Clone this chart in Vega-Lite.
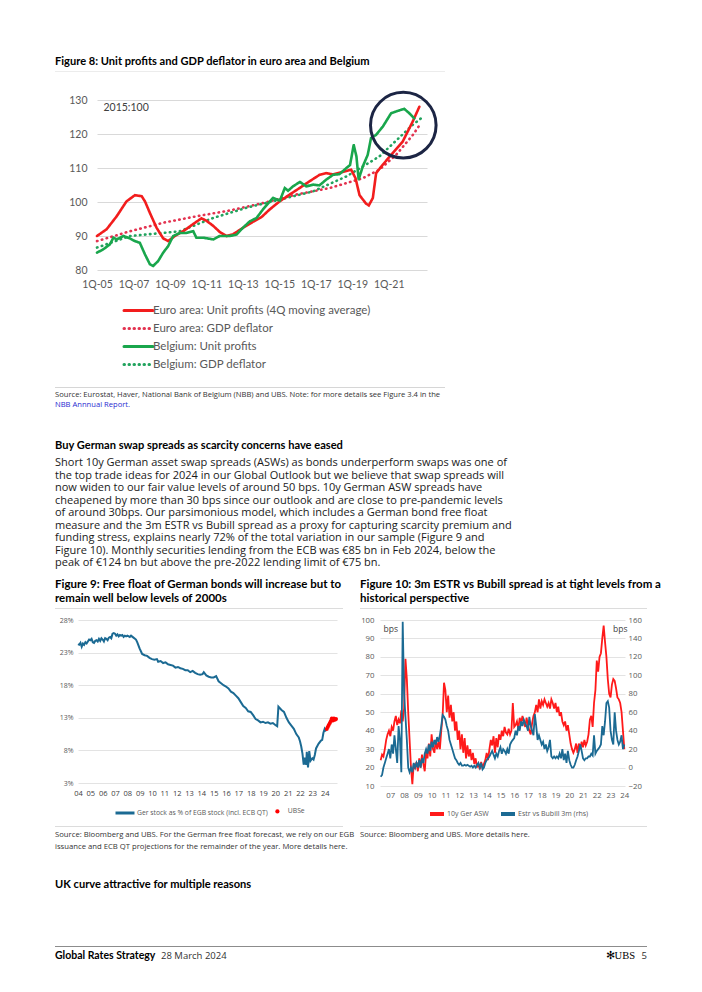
{
"$schema":"https://vega.github.io/schema/vega-lite/v6.json",
"background":"#ffffff",
"padding":{"left":55,"top":0,"right":0,"bottom":0},
"config":{"view":{"stroke":null}},
"bounds":"flush","spacing":0,"columns":8,"align":"each",
"resolve":{"scale":{"color":"independent","fill":"independent","strokeDash":"independent"},"legend":{"color":"independent","fill":"independent","strokeDash":"independent"}},
"concat":[
{"width":23,"height":71,"data":{"values":[{}]},"mark":{"type":"rect","opacity":0},"encoding":{}},
{"width":19,"height":1,"data":{"values":[{}]},"mark":{"type":"rect","opacity":0},"encoding":{}},
{"width":64,"height":1,"data":{"values":[{}]},"mark":{"type":"rect","opacity":0},"encoding":{}},
{"width":199,"height":1,"data":{"values":[{}]},"mark":{"type":"rect","opacity":0},"encoding":{}},
{"width":20,"height":1,"data":{"values":[{}]},"mark":{"type":"rect","opacity":0},"encoding":{}},
{"width":166,"height":1,"data":{"values":[{}]},"mark":{"type":"rect","opacity":0},"encoding":{}},
{"width":89,"height":1,"data":{"values":[{}]},"mark":{"type":"rect","opacity":0},"encoding":{}},
{"width":12,"height":1,"data":{"values":[{}]},"mark":{"type":"rect","opacity":0},"encoding":{}},

{"width":23,"height":1,"data":{"values":[{}]},"mark":{"type":"rect","fill":"#ececec"},"encoding":{},
 "title":{"text":"Figure 8: Unit profits and GDP deflator in euro area and Belgium","orient":"top","anchor":"start","frame":"group","offset":4,"font":"Lato","fontSize":11.1,"fontWeight":"bold","color":"#000000"}},
{"width":19,"height":1,"data":{"values":[{}]},"mark":{"type":"rect","fill":"#ececec"},"encoding":{}},
{"width":64,"height":1,"data":{"values":[{}]},"mark":{"type":"rect","fill":"#ececec"},"encoding":{}},
{"width":199,"height":1,"data":{"values":[{}]},"mark":{"type":"rect","fill":"#ececec"},"encoding":{}},
{"width":20,"height":1,"data":{"values":[{}]},"mark":{"type":"rect","fill":"#ececec"},"encoding":{}},
{"width":65,"height":1,"data":{"values":[{}]},"mark":{"type":"rect","fill":"#ececec"},"encoding":{}},
{"width":1,"height":1,"data":{"values":[{}]},"mark":{"type":"rect","opacity":0},"encoding":{}},
{"width":1,"height":1,"data":{"values":[{}]},"mark":{"type":"rect","opacity":0},"encoding":{}},

{"width":1,"height":28,"data":{"values":[{}]},"mark":{"type":"rect","opacity":0},"encoding":{}},
{"width":1,"height":1,"data":{"values":[{}]},"mark":{"type":"rect","opacity":0},"encoding":{}},
{"width":1,"height":1,"data":{"values":[{}]},"mark":{"type":"rect","opacity":0},"encoding":{}},
{"width":1,"height":1,"data":{"values":[{}]},"mark":{"type":"rect","opacity":0},"encoding":{}},
{"width":1,"height":1,"data":{"values":[{}]},"mark":{"type":"rect","opacity":0},"encoding":{}},
{"width":1,"height":1,"data":{"values":[{}]},"mark":{"type":"rect","opacity":0},"encoding":{}},
{"width":1,"height":1,"data":{"values":[{}]},"mark":{"type":"rect","opacity":0},"encoding":{}},
{"width":1,"height":1,"data":{"values":[{}]},"mark":{"type":"rect","opacity":0},"encoding":{}},

{"width":1,"height":170,"data":{"values":[{}]},"mark":{"type":"rect","opacity":0},"encoding":{}},
{"width":1,"height":1,"data":{"values":[{}]},"mark":{"type":"rect","opacity":0},"encoding":{}},
{"width":64,"height":170,
  "layer":[
   {"data":{"values":[
{"s":"EUD","t":2005.0,"v":88.5},{"s":"EUD","t":2006.81,"v":91.4},{"s":"EUD","t":2008.63,"v":93.9},{"s":"EUD","t":2010.46,"v":95.8},{"s":"EUD","t":2012.28,"v":97.5},{"s":"EUD","t":2014.11,"v":99.7},{"s":"EUD","t":2015.93,"v":102.2},{"s":"EUD","t":2017.76,"v":104.1},{"s":"EUD","t":2019.58,"v":107},{"s":"EUD","t":2020.49,"v":109.5},{"s":"EUD","t":2021.41,"v":113.9},{"s":"EUD","t":2022.32,"v":119.7},{"s":"EUD","t":2022.77,"v":123.2},
{"s":"BED","t":2005.0,"v":86.6},{"s":"BED","t":2006.81,"v":90},{"s":"BED","t":2008.63,"v":90.9},{"s":"BED","t":2009.54,"v":91.4},{"s":"BED","t":2011.37,"v":95.3},{"s":"BED","t":2013.19,"v":98.3},{"s":"BED","t":2015.02,"v":100.7},{"s":"BED","t":2016.84,"v":103.1},{"s":"BED","t":2018.67,"v":107.5},{"s":"BED","t":2020.49,"v":113.4},{"s":"BED","t":2022.32,"v":122.7},{"s":"BED","t":2022.77,"v":124.6},
{"s":"EUP","t":2005.0,"v":90},{"s":"EUP","t":2005.53,"v":92},{"s":"EUP","t":2006.08,"v":95.8},{"s":"EUP","t":2006.62,"v":100.2},{"s":"EUP","t":2007.08,"v":102},{"s":"EUP","t":2007.45,"v":101.7},{"s":"EUP","t":2007.63,"v":100.2},{"s":"EUP","t":2007.9,"v":96.8},{"s":"EUP","t":2008.27,"v":92.4},{"s":"EUP","t":2008.63,"v":89.3},{"s":"EUP","t":2008.9,"v":88.5},{"s":"EUP","t":2009.27,"v":90},{"s":"EUP","t":2009.73,"v":91.4},{"s":"EUP","t":2010.27,"v":93.5},{"s":"EUP","t":2010.73,"v":95.2},{"s":"EUP","t":2011.0,"v":94.5},{"s":"EUP","t":2011.37,"v":93},{"s":"EUP","t":2011.73,"v":91.2},{"s":"EUP","t":2012.1,"v":90},{"s":"EUP","t":2012.46,"v":90.5},{"s":"EUP","t":2013.0,"v":92.4},{"s":"EUP","t":2013.56,"v":94.2},{"s":"EUP","t":2014.01,"v":95.5},{"s":"EUP","t":2014.47,"v":97.8},{"s":"EUP","t":2015.02,"v":100.2},{"s":"EUP","t":2015.57,"v":102.2},{"s":"EUP","t":2016.11,"v":104.1},{"s":"EUP","t":2016.66,"v":106.1},{"s":"EUP","t":2017.21,"v":108},{"s":"EUP","t":2017.57,"v":108.5},{"s":"EUP","t":2017.94,"v":108.1},{"s":"EUP","t":2018.3,"v":108.6},{"s":"EUP","t":2018.67,"v":109.1},{"s":"EUP","t":2018.94,"v":109.5},{"s":"EUP","t":2019.18,"v":107},{"s":"EUP","t":2019.4,"v":102},{"s":"EUP","t":2019.76,"v":99.5},{"s":"EUP","t":2019.91,"v":99},{"s":"EUP","t":2020.13,"v":101.2},{"s":"EUP","t":2020.31,"v":108.5},{"s":"EUP","t":2020.68,"v":111},{"s":"EUP","t":2021.22,"v":114.4},{"s":"EUP","t":2021.77,"v":117.8},{"s":"EUP","t":2022.32,"v":123.7},{"s":"EUP","t":2022.68,"v":128},
{"s":"BEP","t":2005.0,"v":85.1},{"s":"BEP","t":2005.35,"v":86.1},{"s":"BEP","t":2005.7,"v":87.5},{"s":"BEP","t":2005.9,"v":89.5},{"s":"BEP","t":2006.08,"v":89},{"s":"BEP","t":2006.45,"v":90},{"s":"BEP","t":2006.8,"v":89.3},{"s":"BEP","t":2007.08,"v":88.5},{"s":"BEP","t":2007.35,"v":88},{"s":"BEP","t":2007.63,"v":84.6},{"s":"BEP","t":2007.9,"v":81.7},{"s":"BEP","t":2008.08,"v":81.2},{"s":"BEP","t":2008.35,"v":82.6},{"s":"BEP","t":2008.63,"v":85.1},{"s":"BEP","t":2008.9,"v":87},{"s":"BEP","t":2009.18,"v":90},{"s":"BEP","t":2009.55,"v":90.9},{"s":"BEP","t":2009.9,"v":90.9},{"s":"BEP","t":2010.28,"v":91.4},{"s":"BEP","t":2010.45,"v":89.5},{"s":"BEP","t":2010.83,"v":89.5},{"s":"BEP","t":2011.38,"v":89},{"s":"BEP","t":2011.73,"v":90},{"s":"BEP","t":2012.28,"v":90},{"s":"BEP","t":2012.65,"v":90.4},{"s":"BEP","t":2013.0,"v":92.4},{"s":"BEP","t":2013.38,"v":94.3},{"s":"BEP","t":2013.75,"v":95.3},{"s":"BEP","t":2014.1,"v":97.8},{"s":"BEP","t":2014.48,"v":100.2},{"s":"BEP","t":2014.65,"v":101.2},{"s":"BEP","t":2015.03,"v":100.4},{"s":"BEP","t":2015.3,"v":104.1},{"s":"BEP","t":2015.48,"v":103.3},{"s":"BEP","t":2015.75,"v":104.6},{"s":"BEP","t":2016.13,"v":105.9},{"s":"BEP","t":2016.48,"v":104.6},{"s":"BEP","t":2016.85,"v":105.1},{"s":"BEP","t":2017.2,"v":104.9},{"s":"BEP","t":2017.58,"v":106.6},{"s":"BEP","t":2017.95,"v":108},{"s":"BEP","t":2018.3,"v":108.2},{"s":"BEP","t":2018.68,"v":110},{"s":"BEP","t":2018.88,"v":110.9},{"s":"BEP","t":2019.08,"v":116.8},{"s":"BEP","t":2019.23,"v":113.4},{"s":"BEP","t":2019.35,"v":106.6},{"s":"BEP","t":2019.58,"v":110.5},{"s":"BEP","t":2019.85,"v":113.9},{"s":"BEP","t":2020.03,"v":118.8},{"s":"BEP","t":2020.3,"v":119.7},{"s":"BEP","t":2020.68,"v":122.2},{"s":"BEP","t":2021.13,"v":126.1},{"s":"BEP","t":2021.5,"v":126.8},{"s":"BEP","t":2021.85,"v":127.4},{"s":"BEP","t":2022.13,"v":126.1},{"s":"BEP","t":2022.4,"v":124.6}
   ]},
    "mark":{"type":"line","strokeWidth":2.6,"strokeCap":"round"},
    "encoding":{
     "x":{"field":"t","type":"quantitative","scale":{"domain":[2005,2023.1],"range":[0,330],"nice":false,"zero":false},
      "axis":{"values":[2005,2007,2009,2011,2013,2015,2017,2019,2021],"tickCount":50,"labelExpr":"'1Q-' + slice(toString(datum.value), 2)","grid":false,"ticks":false,"domain":false,"labelFlush":false,"labelOverlap":false,"labelFont":"Lato","labelFontSize":10.5,"labelColor":"#595959","labelPadding":9,"title":null}},
     "y":{"field":"v","type":"quantitative","scale":{"domain":[80,130],"nice":false,"zero":false},
      "axis":{"values":[80,90,100,110,120,130],"tickCount":50,"grid":true,"gridColor":"#d9d9d9","ticks":false,"domain":false,"labelOverlap":false,"labelFont":"Lato","labelFontSize":10.5,"labelColor":"#595959","labelPadding":10,"title":"2015:100","titleAngle":0,"titleX":6,"titleY":7,"titleAlign":"left","titleBaseline":"middle","titleFont":"Lato","titleFontSize":10.5,"titleFontWeight":"normal","titleColor":"#404040"}},
     "color":{"field":"s","type":"nominal","scale":{"domain":["EUP","EUD","BEP","BED"],"range":["#f21d1d","#e33350","#19a64c","#22a35e"]},
      "legend":{"title":null,"orient":"none","legendX":35,"legendY":204,"direction":"vertical","symbolType":"M-2.9,0H2.9","symbolSize":100,"symbolStrokeWidth":3,"labelFont":"Lato","labelFontSize":11.5,"labelColor":"#595959","rowPadding":5,"labelOffset":8,"labelLimit":400,
       "labelExpr":"datum.label == 'EUP' ? 'Euro area: Unit profits (4Q moving average)' : datum.label == 'EUD' ? 'Euro area: GDP deflator' : datum.label == 'BEP' ? 'Belgium: Unit profits' : 'Belgium: GDP deflator'",
       "encode":{"symbols":{"update":{"strokeCap":{"value":"round"},"fill":{"value":"transparent"},"strokeDash":{"signal":"datum.value == 'EUD' || datum.value == 'BED' ? [0.5, 4.5] : [1, 0]"}}}}}},
     "strokeDash":{"field":"s","type":"nominal","scale":{"domain":["EUP","EUD","BEP","BED"],"range":[[1,0],[0.5,4.5],[1,0],[0.5,4.5]]},"legend":null}
    }},
   {"data":{"values":[{"t":2021.8,"v":122.6}]},
    "mark":{"type":"point","shape":"circle","filled":false,"size":4300,"strokeWidth":3,"color":"#1c2544","opacity":1},
    "encoding":{"x":{"field":"t","type":"quantitative"},"y":{"field":"v","type":"quantitative"}}}
  ]},
{"width":1,"height":1,"data":{"values":[{}]},"mark":{"type":"rect","opacity":0},"encoding":{}},
{"width":1,"height":1,"data":{"values":[{}]},"mark":{"type":"rect","opacity":0},"encoding":{}},
{"width":1,"height":1,"data":{"values":[{}]},"mark":{"type":"rect","opacity":0},"encoding":{}},
{"width":1,"height":1,"data":{"values":[{}]},"mark":{"type":"rect","opacity":0},"encoding":{}},
{"width":1,"height":1,"data":{"values":[{}]},"mark":{"type":"rect","opacity":0},"encoding":{}},

{"width":1,"height":117,"data":{"values":[{}]},"mark":{"type":"rect","opacity":0},"encoding":{}},
{"width":1,"height":1,"data":{"values":[{}]},"mark":{"type":"rect","opacity":0},"encoding":{}},
{"width":1,"height":1,"data":{"values":[{}]},"mark":{"type":"rect","opacity":0},"encoding":{}},
{"width":1,"height":1,"data":{"values":[{}]},"mark":{"type":"rect","opacity":0},"encoding":{}},
{"width":1,"height":1,"data":{"values":[{}]},"mark":{"type":"rect","opacity":0},"encoding":{}},
{"width":1,"height":1,"data":{"values":[{}]},"mark":{"type":"rect","opacity":0},"encoding":{}},
{"width":1,"height":1,"data":{"values":[{}]},"mark":{"type":"rect","opacity":0},"encoding":{}},
{"width":1,"height":1,"data":{"values":[{}]},"mark":{"type":"rect","opacity":0},"encoding":{}},

{"width":23,"height":1,"data":{"values":[{}]},"mark":{"type":"rect","fill":"#d6d6d6"},"encoding":{},
 "title":{"text":"Source: Eurostat, Haver, National Bank of Belgium (NBB) and UBS. Note: for more details see Figure 3.4 in the","subtitle":"NBB Annnual Report.","orient":"bottom","anchor":"start","frame":"group","offset":3,"font":"Open Sans","fontSize":7.6,"fontWeight":"normal","color":"#333333","subtitleFont":"Open Sans","subtitleFontSize":7.6,"subtitleColor":"#2a2ad0","subtitlePadding":2}},
{"width":19,"height":1,"data":{"values":[{}]},"mark":{"type":"rect","fill":"#d6d6d6"},"encoding":{}},
{"width":64,"height":1,"data":{"values":[{}]},"mark":{"type":"rect","fill":"#d6d6d6"},"encoding":{}},
{"width":199,"height":1,"data":{"values":[{}]},"mark":{"type":"rect","fill":"#d6d6d6"},"encoding":{}},
{"width":20,"height":1,"data":{"values":[{}]},"mark":{"type":"rect","fill":"#d6d6d6"},"encoding":{}},
{"width":65,"height":1,"data":{"values":[{}]},"mark":{"type":"rect","fill":"#d6d6d6"},"encoding":{}},
{"width":1,"height":1,"data":{"values":[{}]},"mark":{"type":"rect","opacity":0},"encoding":{}},
{"width":1,"height":1,"data":{"values":[{}]},"mark":{"type":"rect","opacity":0},"encoding":{}},

{"width":1,"height":49,"data":{"values":[{}]},"mark":{"type":"rect","opacity":0},"encoding":{},
 "title":{"text":"Buy German swap spreads as scarcity concerns have eased","subtitle":["Short 10y German asset swap spreads (ASWs) as bonds underperform swaps was one of","the top trade ideas for 2024 in our Global Outlook but we believe that swap spreads will","now widen to our fair value levels of around 50 bps. 10y German ASW spreads have","cheapened by more than 30 bps since our outlook and are close to pre-pandemic levels","of around 30bps. Our parsimonious model, which includes a German bond free float","measure and the 3m ESTR vs Bubill spread as a proxy for capturing scarcity premium and","funding stress, explains nearly 72% of the total variation in our sample (Figure 9 and","Figure 10). Monthly securities lending from the ECB was €85 bn in Feb 2024, below the","peak of €124 bn but above the pre-2022 lending limit of €75 bn."],
 "orient":"bottom","anchor":"start","frame":"group","offset":3,"font":"Lato","fontSize":11.1,"fontWeight":"bold","color":"#000000","subtitleFont":"Open Sans","subtitleFontSize":11,"subtitleColor":"#1a1a1a","subtitleLineHeight":12.5,"subtitlePadding":6}},
{"width":1,"height":1,"data":{"values":[{}]},"mark":{"type":"rect","opacity":0},"encoding":{}},
{"width":1,"height":1,"data":{"values":[{}]},"mark":{"type":"rect","opacity":0},"encoding":{}},
{"width":1,"height":1,"data":{"values":[{}]},"mark":{"type":"rect","opacity":0},"encoding":{}},
{"width":1,"height":1,"data":{"values":[{}]},"mark":{"type":"rect","opacity":0},"encoding":{}},
{"width":1,"height":1,"data":{"values":[{}]},"mark":{"type":"rect","opacity":0},"encoding":{}},
{"width":1,"height":1,"data":{"values":[{}]},"mark":{"type":"rect","opacity":0},"encoding":{}},
{"width":1,"height":1,"data":{"values":[{}]},"mark":{"type":"rect","opacity":0},"encoding":{}},

{"width":1,"height":171,"data":{"values":[{}]},"mark":{"type":"rect","opacity":0},"encoding":{}},
{"width":1,"height":1,"data":{"values":[{}]},"mark":{"type":"rect","opacity":0},"encoding":{}},
{"width":1,"height":1,"data":{"values":[{}]},"mark":{"type":"rect","opacity":0},"encoding":{}},
{"width":1,"height":1,"data":{"values":[{}]},"mark":{"type":"rect","opacity":0},"encoding":{}},
{"width":1,"height":1,"data":{"values":[{}]},"mark":{"type":"rect","opacity":0},"encoding":{}},
{"width":1,"height":1,"data":{"values":[{}]},"mark":{"type":"rect","opacity":0},"encoding":{}},
{"width":1,"height":1,"data":{"values":[{}]},"mark":{"type":"rect","opacity":0},"encoding":{}},
{"width":1,"height":1,"data":{"values":[{}]},"mark":{"type":"rect","opacity":0},"encoding":{}},

{"width":23,"height":1,"data":{"values":[{}]},"mark":{"type":"rect","fill":"#dcdcdc"},"encoding":{},
  "title":{"text":["Figure 9: Free float of German bonds will increase but to","remain well below levels of 2000s"],"orient":"top","anchor":"start","frame":"group","offset":4,"lineHeight":14,"font":"Lato","fontSize":11.5,"fontWeight":"bold","color":"#000000"}},
{"width":19,"height":1,"data":{"values":[{}]},"mark":{"type":"rect","fill":"#dcdcdc"},"encoding":{}},
{"width":64,"height":1,"data":{"values":[{}]},"mark":{"type":"rect","fill":"#dcdcdc"},"encoding":{}},
{"width":182,"height":1,"data":{"values":[{}]},"mark":{"type":"rect","fill":"#dcdcdc"},"encoding":{}},
{"width":20,"height":1,"data":{"values":[{}]},"mark":{"type":"rect","fill":"#dcdcdc"},"encoding":{},
  "title":{"text":["Figure 10: 3m ESTR vs Bubill spread is at tight levels from a","historical perspective"],"orient":"top","anchor":"start","frame":"group","offset":4,"lineHeight":14,"font":"Lato","fontSize":11.5,"fontWeight":"bold","color":"#000000"}},
{"width":166,"height":1,"data":{"values":[{}]},"mark":{"type":"rect","fill":"#dcdcdc"},"encoding":{}},
{"width":89,"height":1,"data":{"values":[{}]},"mark":{"type":"rect","fill":"#dcdcdc"},"encoding":{}},
{"width":12,"height":1,"data":{"values":[{}]},"mark":{"type":"rect","fill":"#dcdcdc"},"encoding":{}},

{"width":1,"height":11,"data":{"values":[{}]},"mark":{"type":"rect","opacity":0},"encoding":{}},
{"width":1,"height":1,"data":{"values":[{}]},"mark":{"type":"rect","opacity":0},"encoding":{}},
{"width":1,"height":1,"data":{"values":[{}]},"mark":{"type":"rect","opacity":0},"encoding":{}},
{"width":1,"height":1,"data":{"values":[{}]},"mark":{"type":"rect","opacity":0},"encoding":{}},
{"width":1,"height":1,"data":{"values":[{}]},"mark":{"type":"rect","opacity":0},"encoding":{}},
{"width":1,"height":1,"data":{"values":[{}]},"mark":{"type":"rect","opacity":0},"encoding":{}},
{"width":1,"height":1,"data":{"values":[{}]},"mark":{"type":"rect","opacity":0},"encoding":{}},
{"width":1,"height":1,"data":{"values":[{}]},"mark":{"type":"rect","opacity":0},"encoding":{}},

{"width":1,"height":1,"data":{"values":[{}]},"mark":{"type":"rect","opacity":0},"encoding":{}},
{"width":19,"height":163,
    "layer":[
     {"data":{"values":[
{"t":2004.0,"v":24.3},{"t":2004.1,"v":24.2},{"t":2004.2,"v":24.5},{"t":2004.3,"v":23.9},{"t":2004.4,"v":24.4},{"t":2004.5,"v":24.2},{"t":2004.6,"v":24.6},{"t":2004.7,"v":24.4},{"t":2004.8,"v":24.7},{"t":2004.9,"v":25.0},{"t":2005.0,"v":24.9},{"t":2005.1,"v":25.1},{"t":2005.2,"v":24.6},{"t":2005.3,"v":24.5},{"t":2005.4,"v":24.8},{"t":2005.5,"v":24.9},{"t":2005.6,"v":24.7},{"t":2005.7,"v":25.1},{"t":2005.8,"v":24.8},{"t":2005.9,"v":25.2},{"t":2006.0,"v":25.0},{"t":2006.1,"v":24.7},{"t":2006.2,"v":25.2},{"t":2006.3,"v":25.1},{"t":2006.4,"v":24.9},{"t":2006.5,"v":25.3},{"t":2006.6,"v":25.4},{"t":2006.7,"v":25.2},{"t":2006.8,"v":25.9},{"t":2006.9,"v":26.0},{"t":2007.0,"v":25.9},{"t":2007.1,"v":25.6},{"t":2007.2,"v":25.8},{"t":2007.3,"v":25.5},{"t":2007.4,"v":25.7},{"t":2007.5,"v":25.6},{"t":2007.6,"v":25.7},{"t":2007.7,"v":25.4},{"t":2007.8,"v":25.6},{"t":2007.9,"v":25.5},{"t":2008.0,"v":25.6},{"t":2008.2,"v":25.4},{"t":2008.3,"v":25.6},{"t":2008.5,"v":25.3},{"t":2008.7,"v":25.0},{"t":2008.8,"v":24.6},{"t":2008.9,"v":24.1},{"t":2009.0,"v":23.6},{"t":2009.1,"v":23.2},{"t":2009.2,"v":22.8},{"t":2009.4,"v":22.6},{"t":2009.6,"v":22.5},{"t":2009.8,"v":22.2},{"t":2010.0,"v":22.0},{"t":2010.2,"v":21.9},{"t":2010.4,"v":22.0},{"t":2010.5,"v":21.6},{"t":2010.7,"v":21.7},{"t":2010.9,"v":21.4},{"t":2011.1,"v":21.5},{"t":2011.3,"v":21.2},{"t":2011.5,"v":21.1},{"t":2011.7,"v":21.0},{"t":2011.9,"v":20.7},{"t":2012.1,"v":20.8},{"t":2012.3,"v":20.6},{"t":2012.5,"v":20.5},{"t":2012.7,"v":20.3},{"t":2012.9,"v":20.3},{"t":2013.1,"v":20.0},{"t":2013.3,"v":20.2},{"t":2013.5,"v":19.9},{"t":2013.7,"v":19.7},{"t":2013.9,"v":19.6},{"t":2014.1,"v":19.7},{"t":2014.2,"v":20.0},{"t":2014.4,"v":19.5},{"t":2014.6,"v":19.3},{"t":2014.8,"v":19.2},{"t":2015.0,"v":19.2},{"t":2015.2,"v":19.4},{"t":2015.4,"v":18.6},{"t":2015.6,"v":18.3},{"t":2015.8,"v":18.0},{"t":2016.0,"v":17.8},{"t":2016.2,"v":17.5},{"t":2016.4,"v":17.0},{"t":2016.6,"v":16.8},{"t":2016.8,"v":16.4},{"t":2017.0,"v":16.0},{"t":2017.2,"v":15.4},{"t":2017.4,"v":14.8},{"t":2017.6,"v":14.5},{"t":2017.8,"v":14.0},{"t":2018.0,"v":13.9},{"t":2018.2,"v":13.4},{"t":2018.4,"v":12.8},{"t":2018.6,"v":12.6},{"t":2018.8,"v":12.3},{"t":2019.0,"v":12.4},{"t":2019.2,"v":12.2},{"t":2019.4,"v":12.3},{"t":2019.6,"v":12.1},{"t":2019.8,"v":12.2},{"t":2020.0,"v":11.9},{"t":2020.15,"v":11.7},{"t":2020.25,"v":14.7},{"t":2020.35,"v":14.5},{"t":2020.5,"v":14.2},{"t":2020.7,"v":13.9},{"t":2020.9,"v":13.0},{"t":2021.1,"v":12.3},{"t":2021.3,"v":11.8},{"t":2021.5,"v":11.3},{"t":2021.7,"v":10.5},{"t":2021.9,"v":10.0},{"t":2022.0,"v":9.4},{"t":2022.1,"v":8.6},{"t":2022.2,"v":7.5},{"t":2022.3,"v":5.8},{"t":2022.4,"v":6.9},{"t":2022.5,"v":5.8},{"t":2022.55,"v":7.8},{"t":2022.65,"v":5.4},{"t":2022.75,"v":7.9},{"t":2022.85,"v":6.4},{"t":2023.0,"v":6.8},{"t":2023.1,"v":6.6},{"t":2023.2,"v":7.3},{"t":2023.3,"v":8.3},{"t":2023.5,"v":9.0},{"t":2023.7,"v":9.5},{"t":2023.8,"v":9.6},{"t":2023.9,"v":10.7},{"t":2024.0,"v":11.3},{"t":2024.1,"v":10.9}
     ]},
      "mark":{"type":"line","strokeWidth":2},
      "encoding":{
       "x":{"field":"t","type":"quantitative","scale":{"domain":[2004,2025],"range":[0,259],"nice":false,"zero":false},
        "axis":{"values":[2004,2005,2006,2007,2008,2009,2010,2011,2012,2013,2014,2015,2016,2017,2018,2019,2020,2021,2022,2023,2024],"tickCount":50,"labelExpr":"slice(toString(datum.value), 2)","grid":false,"ticks":false,"domain":false,"labelFlush":false,"labelOverlap":false,"labelFont":"Open Sans","labelFontSize":7.5,"labelColor":"#404040","labelPadding":6,"title":null}},
       "y":{"field":"v","type":"quantitative","scale":{"domain":[3,28],"nice":false,"zero":false},
        "axis":{"values":[3,8,13,18,23,28],"tickCount":50,"labelExpr":"datum.value + '%'","grid":true,"gridColor":"#e3e3e3","ticks":false,"domain":false,"labelOverlap":false,"labelFont":"Open Sans","labelFontSize":7,"labelColor":"#595959","labelPadding":5,"title":null}},
       "color":{"datum":"Ger stock as % of EGB stock (incl. ECB QT)","scale":{"range":["#1b6a93"]},
        "legend":{"title":null,"orient":"none","legendX":36,"legendY":182,"symbolType":"stroke","symbolSize":361,"symbolStrokeWidth":3,"labelFont":"Open Sans","labelFontSize":6.8,"labelColor":"#595959","labelOffset":1,"labelLimit":300}}
      }},
     {"data":{"values":[
{"t":2024.17,"v":11.3},{"t":2024.25,"v":11.6},{"t":2024.33,"v":11.9},{"t":2024.42,"v":12.2},{"t":2024.5,"v":12.5},{"t":2024.58,"v":12.9},{"t":2024.67,"v":12.6},{"t":2024.75,"v":12.9},{"t":2024.83,"v":12.7},{"t":2024.92,"v":12.8}
     ]},
      "mark":{"type":"point","filled":true,"size":16,"opacity":1},
      "encoding":{
       "x":{"field":"t","type":"quantitative"},
       "y":{"field":"v","type":"quantitative"},
       "fill":{"datum":"UBSe","scale":{"range":["#ff0000"]},
        "legend":{"title":null,"orient":"none","legendX":196,"legendY":188,"symbolType":"circle","symbolSize":18,"labelFont":"Open Sans","labelFontSize":6.8,"labelColor":"#595959","labelOffset":7}}
      }}
    ]},
{"width":1,"height":1,"data":{"values":[{}]},"mark":{"type":"rect","opacity":0},"encoding":{}},
{"width":1,"height":1,"data":{"values":[{}]},"mark":{"type":"rect","opacity":0},"encoding":{}},
{"width":1,"height":1,"data":{"values":[{}]},"mark":{"type":"rect","opacity":0},"encoding":{}},
{"width":166,"height":166,
    "data":{"values":[
{"t":2006.3,"a":24,"e":-10},{"t":2006.4,"a":27,"e":-8},{"t":2006.5,"a":26,"e":0},{"t":2006.6,"a":30,"e":5},{"t":2006.7,"a":35,"e":10},{"t":2006.8,"a":38,"e":15},{"t":2006.9,"a":40,"e":20},
{"t":2007.0,"a":37,"e":10},{"t":2007.1,"a":42,"e":25},{"t":2007.2,"a":40,"e":15},{"t":2007.3,"a":45,"e":35},{"t":2007.4,"a":48,"e":20},{"t":2007.5,"a":43,"e":5},{"t":2007.6,"a":46,"e":45},{"t":2007.7,"a":44,"e":30},{"t":2007.8,"a":51,"e":-5},{"t":2007.9,"a":45,"e":158},
{"t":2008.0,"a":52,"e":80},{"t":2008.1,"a":79,"e":55},{"t":2008.2,"a":68,"e":30},{"t":2008.3,"a":50,"e":0},{"t":2008.4,"a":35,"e":-5},{"t":2008.5,"a":20,"e":0},{"t":2008.6,"a":11,"e":-5},{"t":2008.7,"a":22,"e":5},{"t":2008.8,"a":20,"e":0},{"t":2008.9,"a":23,"e":5},
{"t":2009.0,"a":18,"e":0},{"t":2009.1,"a":25,"e":8},{"t":2009.2,"a":20,"e":0},{"t":2009.3,"a":27,"e":10},{"t":2009.4,"a":22,"e":5},{"t":2009.5,"a":18,"e":15},{"t":2009.6,"a":28,"e":20},{"t":2009.7,"a":25,"e":15},{"t":2009.8,"a":33,"e":25},{"t":2009.9,"a":26,"e":18},
{"t":2010.0,"a":38,"e":28},{"t":2010.1,"a":30,"e":22},{"t":2010.2,"a":28,"e":30},{"t":2010.3,"a":35,"e":25},{"t":2010.4,"a":30,"e":33},{"t":2010.5,"a":34,"e":28},{"t":2010.6,"a":30,"e":35},{"t":2010.7,"a":40,"e":45},{"t":2010.8,"a":48,"e":57},{"t":2010.9,"a":66,"e":55},
{"t":2011.0,"a":62,"e":52},{"t":2011.1,"a":50,"e":45},{"t":2011.2,"a":59,"e":40},{"t":2011.3,"a":47,"e":30},{"t":2011.4,"a":54,"e":25},{"t":2011.5,"a":45,"e":20},{"t":2011.6,"a":50,"e":15},{"t":2011.7,"a":40,"e":10},{"t":2011.8,"a":45,"e":8},{"t":2011.9,"a":35,"e":5},
{"t":2012.0,"a":40,"e":3},{"t":2012.1,"a":30,"e":5},{"t":2012.2,"a":38,"e":2},{"t":2012.3,"a":28,"e":2},{"t":2012.4,"a":36,"e":3},{"t":2012.5,"a":25,"e":2},{"t":2012.6,"a":32,"e":3},{"t":2012.7,"a":26,"e":2},{"t":2012.8,"a":30,"e":1},{"t":2012.9,"a":24,"e":2},
{"t":2013.0,"a":28,"e":0},{"t":2013.1,"a":22,"e":2},{"t":2013.2,"a":25,"e":0},{"t":2013.3,"a":20,"e":3},{"t":2013.4,"a":22,"e":5},{"t":2013.5,"a":19,"e":0},{"t":2013.6,"a":23,"e":5},{"t":2013.7,"a":20,"e":-2},{"t":2013.8,"a":22,"e":0},{"t":2013.9,"a":24,"e":5},
{"t":2014.0,"a":28,"e":8},{"t":2014.1,"a":24,"e":10},{"t":2014.2,"a":30,"e":12},{"t":2014.3,"a":35,"e":15},{"t":2014.4,"a":32,"e":18},{"t":2014.5,"a":37,"e":14},{"t":2014.6,"a":28,"e":10},{"t":2014.7,"a":36,"e":15},{"t":2014.8,"a":31,"e":12},{"t":2014.9,"a":38,"e":18},
{"t":2015.0,"a":35,"e":22},{"t":2015.1,"a":40,"e":15},{"t":2015.2,"a":37,"e":20},{"t":2015.3,"a":42,"e":18},{"t":2015.4,"a":39,"e":15},{"t":2015.5,"a":38,"e":20},{"t":2015.6,"a":41,"e":15},{"t":2015.7,"a":38,"e":25},{"t":2015.8,"a":40,"e":28},{"t":2015.9,"a":55,"e":30},
{"t":2016.0,"a":42,"e":32},{"t":2016.1,"a":43,"e":40},{"t":2016.2,"a":45,"e":35},{"t":2016.3,"a":41,"e":45},{"t":2016.4,"a":47,"e":40},{"t":2016.5,"a":44,"e":50},{"t":2016.6,"a":48,"e":45},{"t":2016.7,"a":45,"e":52},{"t":2016.8,"a":42,"e":48},{"t":2016.9,"a":47,"e":45},
{"t":2017.0,"a":43,"e":40},{"t":2017.1,"a":40,"e":55},{"t":2017.2,"a":38,"e":45},{"t":2017.3,"a":44,"e":40},{"t":2017.4,"a":48,"e":35},{"t":2017.5,"a":50,"e":58},{"t":2017.6,"a":54,"e":45},{"t":2017.7,"a":50,"e":30},{"t":2017.8,"a":57,"e":35},{"t":2017.9,"a":52,"e":30},
{"t":2018.0,"a":56,"e":25},{"t":2018.1,"a":54,"e":28},{"t":2018.2,"a":57,"e":20},{"t":2018.3,"a":55,"e":25},{"t":2018.4,"a":53,"e":18},{"t":2018.5,"a":55,"e":22},{"t":2018.6,"a":52,"e":30},{"t":2018.7,"a":57,"e":12},{"t":2018.8,"a":55,"e":10},{"t":2018.9,"a":52,"e":12},
{"t":2019.0,"a":55,"e":10},{"t":2019.1,"a":50,"e":12},{"t":2019.2,"a":53,"e":10},{"t":2019.3,"a":48,"e":15},{"t":2019.4,"a":50,"e":10},{"t":2019.5,"a":45,"e":20},{"t":2019.6,"a":43,"e":8},{"t":2019.7,"a":45,"e":15},{"t":2019.8,"a":40,"e":5},{"t":2019.9,"a":43,"e":18},
{"t":2020.0,"a":38,"e":8},{"t":2020.1,"a":33,"e":3},{"t":2020.2,"a":30,"e":0},{"t":2020.3,"a":28,"e":0},{"t":2020.4,"a":30,"e":3},{"t":2020.5,"a":33,"e":8},{"t":2020.6,"a":28,"e":12},{"t":2020.7,"a":33,"e":18},{"t":2020.8,"a":30,"e":25},{"t":2020.9,"a":34,"e":18},
{"t":2021.0,"a":31,"e":10},{"t":2021.1,"a":35,"e":8},{"t":2021.2,"a":32,"e":10},{"t":2021.3,"a":34,"e":10},{"t":2021.4,"a":38,"e":12},{"t":2021.5,"a":46,"e":12},{"t":2021.6,"a":48,"e":15},{"t":2021.7,"a":42,"e":13},{"t":2021.8,"a":55,"e":35},{"t":2021.9,"a":62,"e":15},
{"t":2022.0,"a":78,"e":18},{"t":2022.1,"a":72,"e":20},{"t":2022.2,"a":80,"e":22},{"t":2022.3,"a":82,"e":25},{"t":2022.4,"a":90,"e":45},{"t":2022.5,"a":97,"e":35},{"t":2022.6,"a":88,"e":50},{"t":2022.7,"a":80,"e":70},{"t":2022.8,"a":68,"e":72},{"t":2022.9,"a":60,"e":65},
{"t":2023.0,"a":58,"e":40},{"t":2023.1,"a":65,"e":30},{"t":2023.2,"a":68,"e":25},{"t":2023.3,"a":67,"e":60},{"t":2023.4,"a":63,"e":40},{"t":2023.5,"a":58,"e":30},{"t":2023.6,"a":57,"e":25},{"t":2023.7,"a":55,"e":28},{"t":2023.8,"a":50,"e":35},{"t":2023.9,"a":40,"e":20},{"t":2024.0,"a":30,"e":25}
    ]},
    "layer":[
     {"mark":{"type":"line","strokeWidth":1.8},
      "encoding":{
       "x":{"field":"t","type":"quantitative","scale":{"domain":[2006.25,2024.05],"range":[0,245],"nice":false,"zero":false},
        "axis":{"values":[2007,2008,2009,2010,2011,2012,2013,2014,2015,2016,2017,2018,2019,2020,2021,2022,2023,2024],"tickCount":50,"labelExpr":"slice(toString(datum.value), 2)","grid":false,"ticks":false,"domain":false,"labelFlush":false,"labelOverlap":false,"labelFont":"Open Sans","labelFontSize":7.8,"labelColor":"#595959","labelPadding":5,"title":null}},
       "y":{"field":"a","type":"quantitative","scale":{"domain":[10,100],"nice":false,"zero":false},
        "axis":{"values":[10,20,30,40,50,60,70,80,90,100],"tickCount":50,"grid":true,"gridColor":"#e3e3e3","ticks":false,"domain":false,"labelOverlap":false,"labelFont":"Open Sans","labelFontSize":7.8,"labelColor":"#595959","labelPadding":6,"title":"bps","titleAngle":0,"titleX":3,"titleY":8,"titleAlign":"left","titleBaseline":"middle","titleFont":"Open Sans","titleFontSize":8.5,"titleFontWeight":"normal","titleColor":"#404040"}},
       "color":{"datum":"10y Ger ASW","scale":{"domain":["10y Ger ASW","Estr vs Bubill 3m (rhs)"],"range":["#ff1a1a","#1b6a93"]},
        "legend":{"title":null,"orient":"none","legendX":48,"legendY":185,"direction":"horizontal","gridAlign":"each","symbolType":"stroke","symbolSize":196,"symbolStrokeWidth":4,"labelFont":"Open Sans","labelFontSize":7,"labelColor":"#595959","columnPadding":4,"labelOffset":1,"labelLimit":300}}
      }},
     {"mark":{"type":"line","strokeWidth":1.8},
      "encoding":{
       "x":{"field":"t","type":"quantitative"},
       "y":{"field":"e","type":"quantitative","scale":{"domain":[-20,160],"nice":false,"zero":false},
        "axis":{"orient":"right","offset":79,"values":[-20,0,20,40,60,80,100,120,140,160],"tickCount":50,"grid":false,"ticks":false,"domain":false,"labelOverlap":false,"labelFont":"Open Sans","labelFontSize":7.8,"labelColor":"#595959","labelPadding":3,"title":"bps","titleAngle":0,"titleX":2,"titleY":8,"titleAlign":"right","titleBaseline":"middle","titleFont":"Open Sans","titleFontSize":8.5,"titleFontWeight":"normal","titleColor":"#404040"}},
       "color":{"datum":"Estr vs Bubill 3m (rhs)"}
      }}
    ],
    "resolve":{"scale":{"y":"independent"}}},
{"width":1,"height":1,"data":{"values":[{}]},"mark":{"type":"rect","opacity":0},"encoding":{}},
{"width":1,"height":1,"data":{"values":[{}]},"mark":{"type":"rect","opacity":0},"encoding":{}},

{"width":1,"height":40,"data":{"values":[{}]},"mark":{"type":"rect","opacity":0},"encoding":{}},
{"width":1,"height":1,"data":{"values":[{}]},"mark":{"type":"rect","opacity":0},"encoding":{}},
{"width":1,"height":1,"data":{"values":[{}]},"mark":{"type":"rect","opacity":0},"encoding":{}},
{"width":1,"height":1,"data":{"values":[{}]},"mark":{"type":"rect","opacity":0},"encoding":{}},
{"width":1,"height":1,"data":{"values":[{}]},"mark":{"type":"rect","opacity":0},"encoding":{}},
{"width":1,"height":1,"data":{"values":[{}]},"mark":{"type":"rect","opacity":0},"encoding":{}},
{"width":1,"height":1,"data":{"values":[{}]},"mark":{"type":"rect","opacity":0},"encoding":{}},
{"width":1,"height":1,"data":{"values":[{}]},"mark":{"type":"rect","opacity":0},"encoding":{}},

{"width":23,"height":1,"data":{"values":[{}]},"mark":{"type":"rect","fill":"#dcdcdc"},"encoding":{},
  "title":{"text":["Source: Bloomberg and UBS. For the German free float forecast, we rely on our EGB","issuance and ECB QT projections for the remainder of the year. More details here."],"orient":"bottom","anchor":"start","frame":"group","offset":4,"lineHeight":12,"font":"Open Sans","fontSize":7.7,"fontWeight":"normal","color":"#333333"}},
{"width":19,"height":1,"data":{"values":[{}]},"mark":{"type":"rect","fill":"#dcdcdc"},"encoding":{}},
{"width":64,"height":1,"data":{"values":[{}]},"mark":{"type":"rect","fill":"#dcdcdc"},"encoding":{}},
{"width":182,"height":1,"data":{"values":[{}]},"mark":{"type":"rect","fill":"#dcdcdc"},"encoding":{}},
{"width":20,"height":1,"data":{"values":[{}]},"mark":{"type":"rect","fill":"#dcdcdc"},"encoding":{},
  "title":{"text":"Source: Bloomberg and UBS. More details here.","orient":"bottom","anchor":"start","frame":"group","offset":4,"font":"Open Sans","fontSize":7.7,"fontWeight":"normal","color":"#333333"}},
{"width":166,"height":1,"data":{"values":[{}]},"mark":{"type":"rect","fill":"#dcdcdc"},"encoding":{}},
{"width":89,"height":1,"data":{"values":[{}]},"mark":{"type":"rect","fill":"#dcdcdc"},"encoding":{}},
{"width":12,"height":1,"data":{"values":[{}]},"mark":{"type":"rect","fill":"#dcdcdc"},"encoding":{}},

{"width":1,"height":48,"data":{"values":[{}]},"mark":{"type":"rect","opacity":0},"encoding":{},
 "title":{"text":"UK curve attractive for multiple reasons","orient":"bottom","anchor":"start","frame":"group","offset":4,"font":"Lato","fontSize":11.1,"fontWeight":"bold","color":"#000000"}},
{"width":1,"height":1,"data":{"values":[{}]},"mark":{"type":"rect","opacity":0},"encoding":{}},
{"width":1,"height":1,"data":{"values":[{}]},"mark":{"type":"rect","opacity":0},"encoding":{}},
{"width":1,"height":1,"data":{"values":[{}]},"mark":{"type":"rect","opacity":0},"encoding":{}},
{"width":1,"height":1,"data":{"values":[{}]},"mark":{"type":"rect","opacity":0},"encoding":{}},
{"width":1,"height":1,"data":{"values":[{}]},"mark":{"type":"rect","opacity":0},"encoding":{}},
{"width":1,"height":1,"data":{"values":[{}]},"mark":{"type":"rect","opacity":0},"encoding":{}},
{"width":1,"height":1,"data":{"values":[{}]},"mark":{"type":"rect","opacity":0},"encoding":{}},

{"width":1,"height":71,"data":{"values":[{}]},"mark":{"type":"rect","opacity":0},"encoding":{}},
{"width":1,"height":1,"data":{"values":[{}]},"mark":{"type":"rect","opacity":0},"encoding":{}},
{"width":1,"height":1,"data":{"values":[{}]},"mark":{"type":"rect","opacity":0},"encoding":{}},
{"width":1,"height":1,"data":{"values":[{}]},"mark":{"type":"rect","opacity":0},"encoding":{}},
{"width":1,"height":1,"data":{"values":[{}]},"mark":{"type":"rect","opacity":0},"encoding":{}},
{"width":1,"height":1,"data":{"values":[{}]},"mark":{"type":"rect","opacity":0},"encoding":{}},
{"width":1,"height":1,"data":{"values":[{}]},"mark":{"type":"rect","opacity":0},"encoding":{}},
{"width":1,"height":1,"data":{"values":[{}]},"mark":{"type":"rect","opacity":0},"encoding":{}},

{"width":23,"height":1,"data":{"values":[{}]},"mark":{"type":"rect","fill":"#8c8c8c"},"encoding":{},
  "title":{"text":"Global Rates Strategy","orient":"bottom","anchor":"start","frame":"group","offset":4,"font":"Lato","fontSize":10.5,"fontWeight":"bold","color":"#000000"}},
{"width":19,"height":1,"data":{"values":[{}]},"mark":{"type":"rect","fill":"#8c8c8c"},"encoding":{}},
{"width":64,"height":1,"data":{"values":[{}]},"mark":{"type":"rect","fill":"#8c8c8c"},"encoding":{}},
{"width":199,"height":1,"data":{"values":[{}]},"mark":{"type":"rect","fill":"#8c8c8c"},"encoding":{},
  "title":{"text":"28 March 2024","orient":"bottom","anchor":"start","frame":"group","offset":4,"font":"Open Sans","fontSize":9.5,"fontWeight":"normal","color":"#333333"}},
{"width":20,"height":1,"data":{"values":[{}]},"mark":{"type":"rect","fill":"#8c8c8c"},"encoding":{}},
{"width":166,"height":1,"data":{"values":[{}]},"mark":{"type":"rect","fill":"#8c8c8c"},"encoding":{}},
{"width":89,"height":1,"data":{"values":[{}]},"mark":{"type":"rect","fill":"#8c8c8c"},"encoding":{},
  "title":{"text":"✻UBS","orient":"bottom","anchor":"end","frame":"group","offset":4,"font":"Liberation Serif","fontSize":10.5,"fontWeight":"normal","color":"#000000"}},
{"width":12,"height":1,"data":{"values":[{}]},"mark":{"type":"rect","fill":"#8c8c8c"},"encoding":{},
  "title":{"text":"5","orient":"bottom","anchor":"end","frame":"group","offset":4,"font":"Open Sans","fontSize":9.5,"fontWeight":"normal","color":"#333333"}}
]
}
